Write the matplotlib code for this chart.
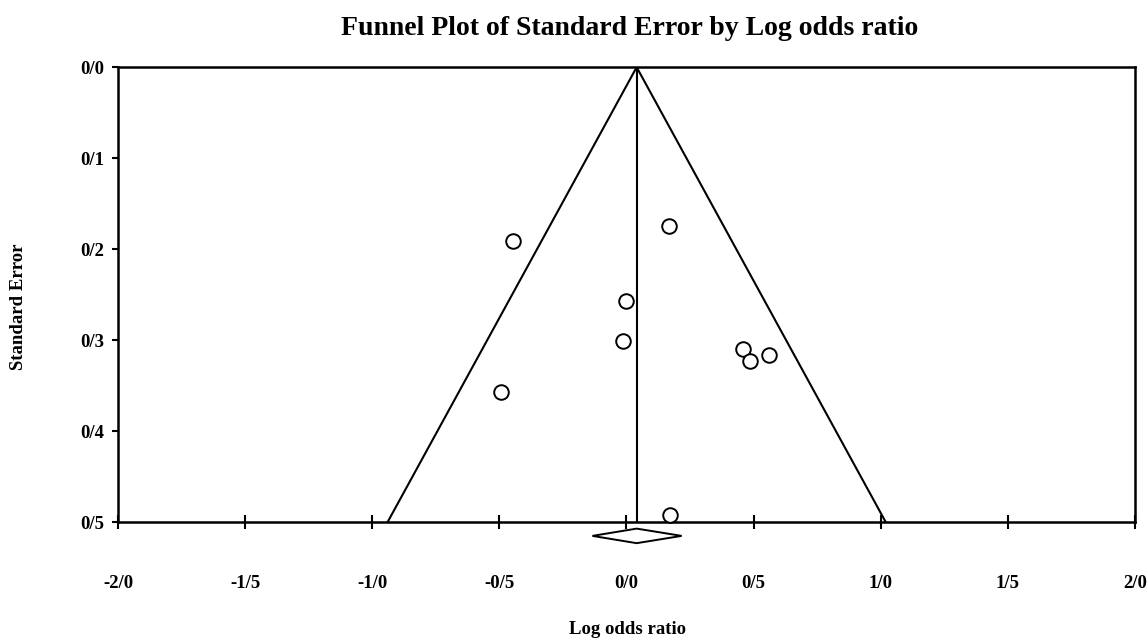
import numpy as np
import matplotlib.pyplot as plt
from matplotlib.patches import Polygon

# studies: log odds ratio and standard error
log_or = [-0.446, 0.167, -0.003, -0.015, 0.457, 0.487, 0.561, -0.492, 0.173]
std_err = [0.191, 0.174, 0.257, 0.301, 0.310, 0.323, 0.316, 0.357, 0.4915]

pooled = 0.04
diamond_lo, diamond_hi = -0.134, 0.217
se_max = 0.5

x_ticks = [-2.0, -1.5, -1.0, -0.5, 0.0, 0.5, 1.0, 1.5, 2.0]
x_labels = ['-2/0', '-1/5', '-1/0', '-0/5', '0/0', '0/5', '1/0', '1/5', '2/0']
y_ticks = [0.0, 0.1, 0.2, 0.3, 0.4, 0.5]
y_labels = ['0/0', '0/1', '0/2', '0/3', '0/4', '0/5']

plt.rcParams['font.family'] = ['Liberation Serif', 'DejaVu Serif']
plt.rcParams['font.weight'] = 'bold'

fig = plt.figure(figsize=(11.47, 6.4), dpi=100)
ax = fig.add_axes([0.1029, 0.184, 0.8866, 0.711])

# funnel (pseudo 95% limits)
ax.plot([pooled - 1.96 * se_max, pooled, pooled + 1.96 * se_max], [se_max, 0, se_max],
        color='black', lw=1.5)
ax.plot([pooled, pooled], [0, se_max], color='black', lw=1.5)

ax.scatter(log_or, std_err, s=110, facecolors='white', edgecolors='black',
           linewidths=1.4, zorder=3, clip_on=False)

# pooled estimate diamond below the axis
dia = Polygon([[diamond_lo, 0.515], [pooled, 0.507], [diamond_hi, 0.515], [pooled, 0.523]],
              closed=True, facecolor='white', edgecolor='black', lw=1.4, clip_on=False)
ax.add_patch(dia)

ax.set_xlim(-2, 2)
ax.set_ylim(0.5, 0)
ax.set_xticks(x_ticks)
ax.set_xticklabels(x_labels)
ax.set_yticks(y_ticks)
ax.set_yticklabels(y_labels)
ax.tick_params(axis='x', direction='inout', length=10, width=1.5, pad=33, labelsize=13.5)
ax.tick_params(axis='y', direction='out', length=4, width=1.5, pad=6, labelsize=13.5)
for sp in ax.spines.values():
    sp.set_linewidth(1.8)

fig.text(0.549, 0.955, 'Funnel Plot of Standard Error by Log odds ratio',
         ha='center', va='center', fontsize=20, fontweight='bold')
fig.text(0.547, 0.016, 'Log odds ratio', ha='center', va='center', fontsize=13.5, fontweight='bold')
fig.text(0.016, 0.52, 'Standard Error', ha='center', va='center', rotation=90,
         fontsize=13.5, fontweight='bold')

fig.savefig('out.png', dpi=100)
